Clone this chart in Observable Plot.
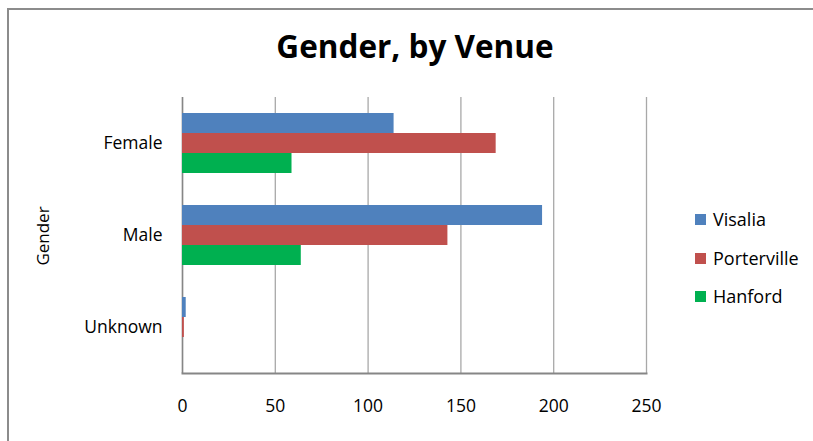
<!DOCTYPE html>
<html><head><meta charset="utf-8">
<script src="https://cdn.jsdelivr.net/npm/d3@7"></script>
<script src="https://cdn.jsdelivr.net/npm/@observablehq/plot@0.6"></script>
<style>
body{margin:0;background:#fff;font-family:"Open Sans",sans-serif;color:#000;}
#wrap{position:relative;width:813px;height:441px;overflow:hidden;}
#border{position:absolute;left:7px;top:8px;width:900px;height:600px;border-left:2px solid #8c8c8c;border-top:2px solid #8c8c8c;}
#chart{position:absolute;left:0;top:0;}
#title{position:absolute;left:0;width:830px;top:24px;text-align:center;font-family:"Open Sans",sans-serif;font-weight:bold;font-size:31.5px;}
#ylab{position:absolute;left:42px;top:236px;transform:translate(-50%,-50%) rotate(-90deg);font-size:17px;white-space:nowrap;}
#legend{position:absolute;left:695px;top:0;font-size:18px;}
.item{position:absolute;left:0;display:flex;align-items:center;white-space:nowrap;transform:translateY(-50%);}
.sw{width:11px;height:11px;margin-right:7px;}
</style>
</head><body>
<div id="wrap">
  <div id="border"></div>
  <div id="chart"></div>
  <div id="title">Gender, by Venue</div>
  <div id="ylab">Gender</div>
  <div id="legend"></div>
</div>
<script>
const genders = ["Female", "Male", "Unknown"];
const venues = ["Visalia", "Porterville", "Hanford"];
const visalia = [114, 194, 2];
const porterville = [169, 143, 1];
const hanford = [59, 64, 0];
const xTicks = [0, 50, 100, 150, 200, 250];
const colors = ["#4F81BD", "#C0504D", "#00B050"];

const series = [visalia, porterville, hanford];
const rows = genders.flatMap((g, i) => venues.map((v, j) => ({gender: g, venue: v, count: series[j][i]})));

const chart = Plot.plot({
  width: 813,
  height: 441,
  marginLeft: 182,
  marginRight: 167,
  marginTop: 97,
  marginBottom: 68,
  style: {fontFamily: "'Open Sans', sans-serif", fontSize: "17.5px", color: "#000", background: "transparent"},
  x: {domain: [0, 250]},
  fy: {domain: genders, padding: 0},
  y: {domain: venues, paddingInner: 0, paddingOuter: 0.75, axis: null},
  color: {domain: venues, range: colors},
  marks: [
    Plot.gridX(xTicks, {stroke: "#a8a8a8", strokeOpacity: 1, strokeWidth: 1.3}),
    Plot.ruleX([0], {stroke: "#868686", strokeWidth: 1.5}),
    Plot.barX(rows, {fy: "gender", y: "venue", x: "count", fill: "venue"}),
    Plot.frame({anchor: "bottom", facetAnchor: "bottom", stroke: "#868686", strokeWidth: 2}),
    Plot.axisFy({anchor: "left", tickSize: 0, tickPadding: 20, fontSize: 17.5, label: null}),
    Plot.axisX(xTicks, {tickSize: 0, tickPadding: 26, fontSize: 17.5, label: null})
  ]
});
document.getElementById("chart").appendChild(chart);

const legend = document.getElementById("legend");
const legendY = [219, 258, 296];
venues.forEach((v, i) => {
  const it = document.createElement("div");
  it.className = "item";
  it.style.top = legendY[i] + "px";
  it.innerHTML = `<span class="sw" style="background:${colors[i]}"></span><span>${v}</span>`;
  legend.appendChild(it);
});
</script>
</body></html>
